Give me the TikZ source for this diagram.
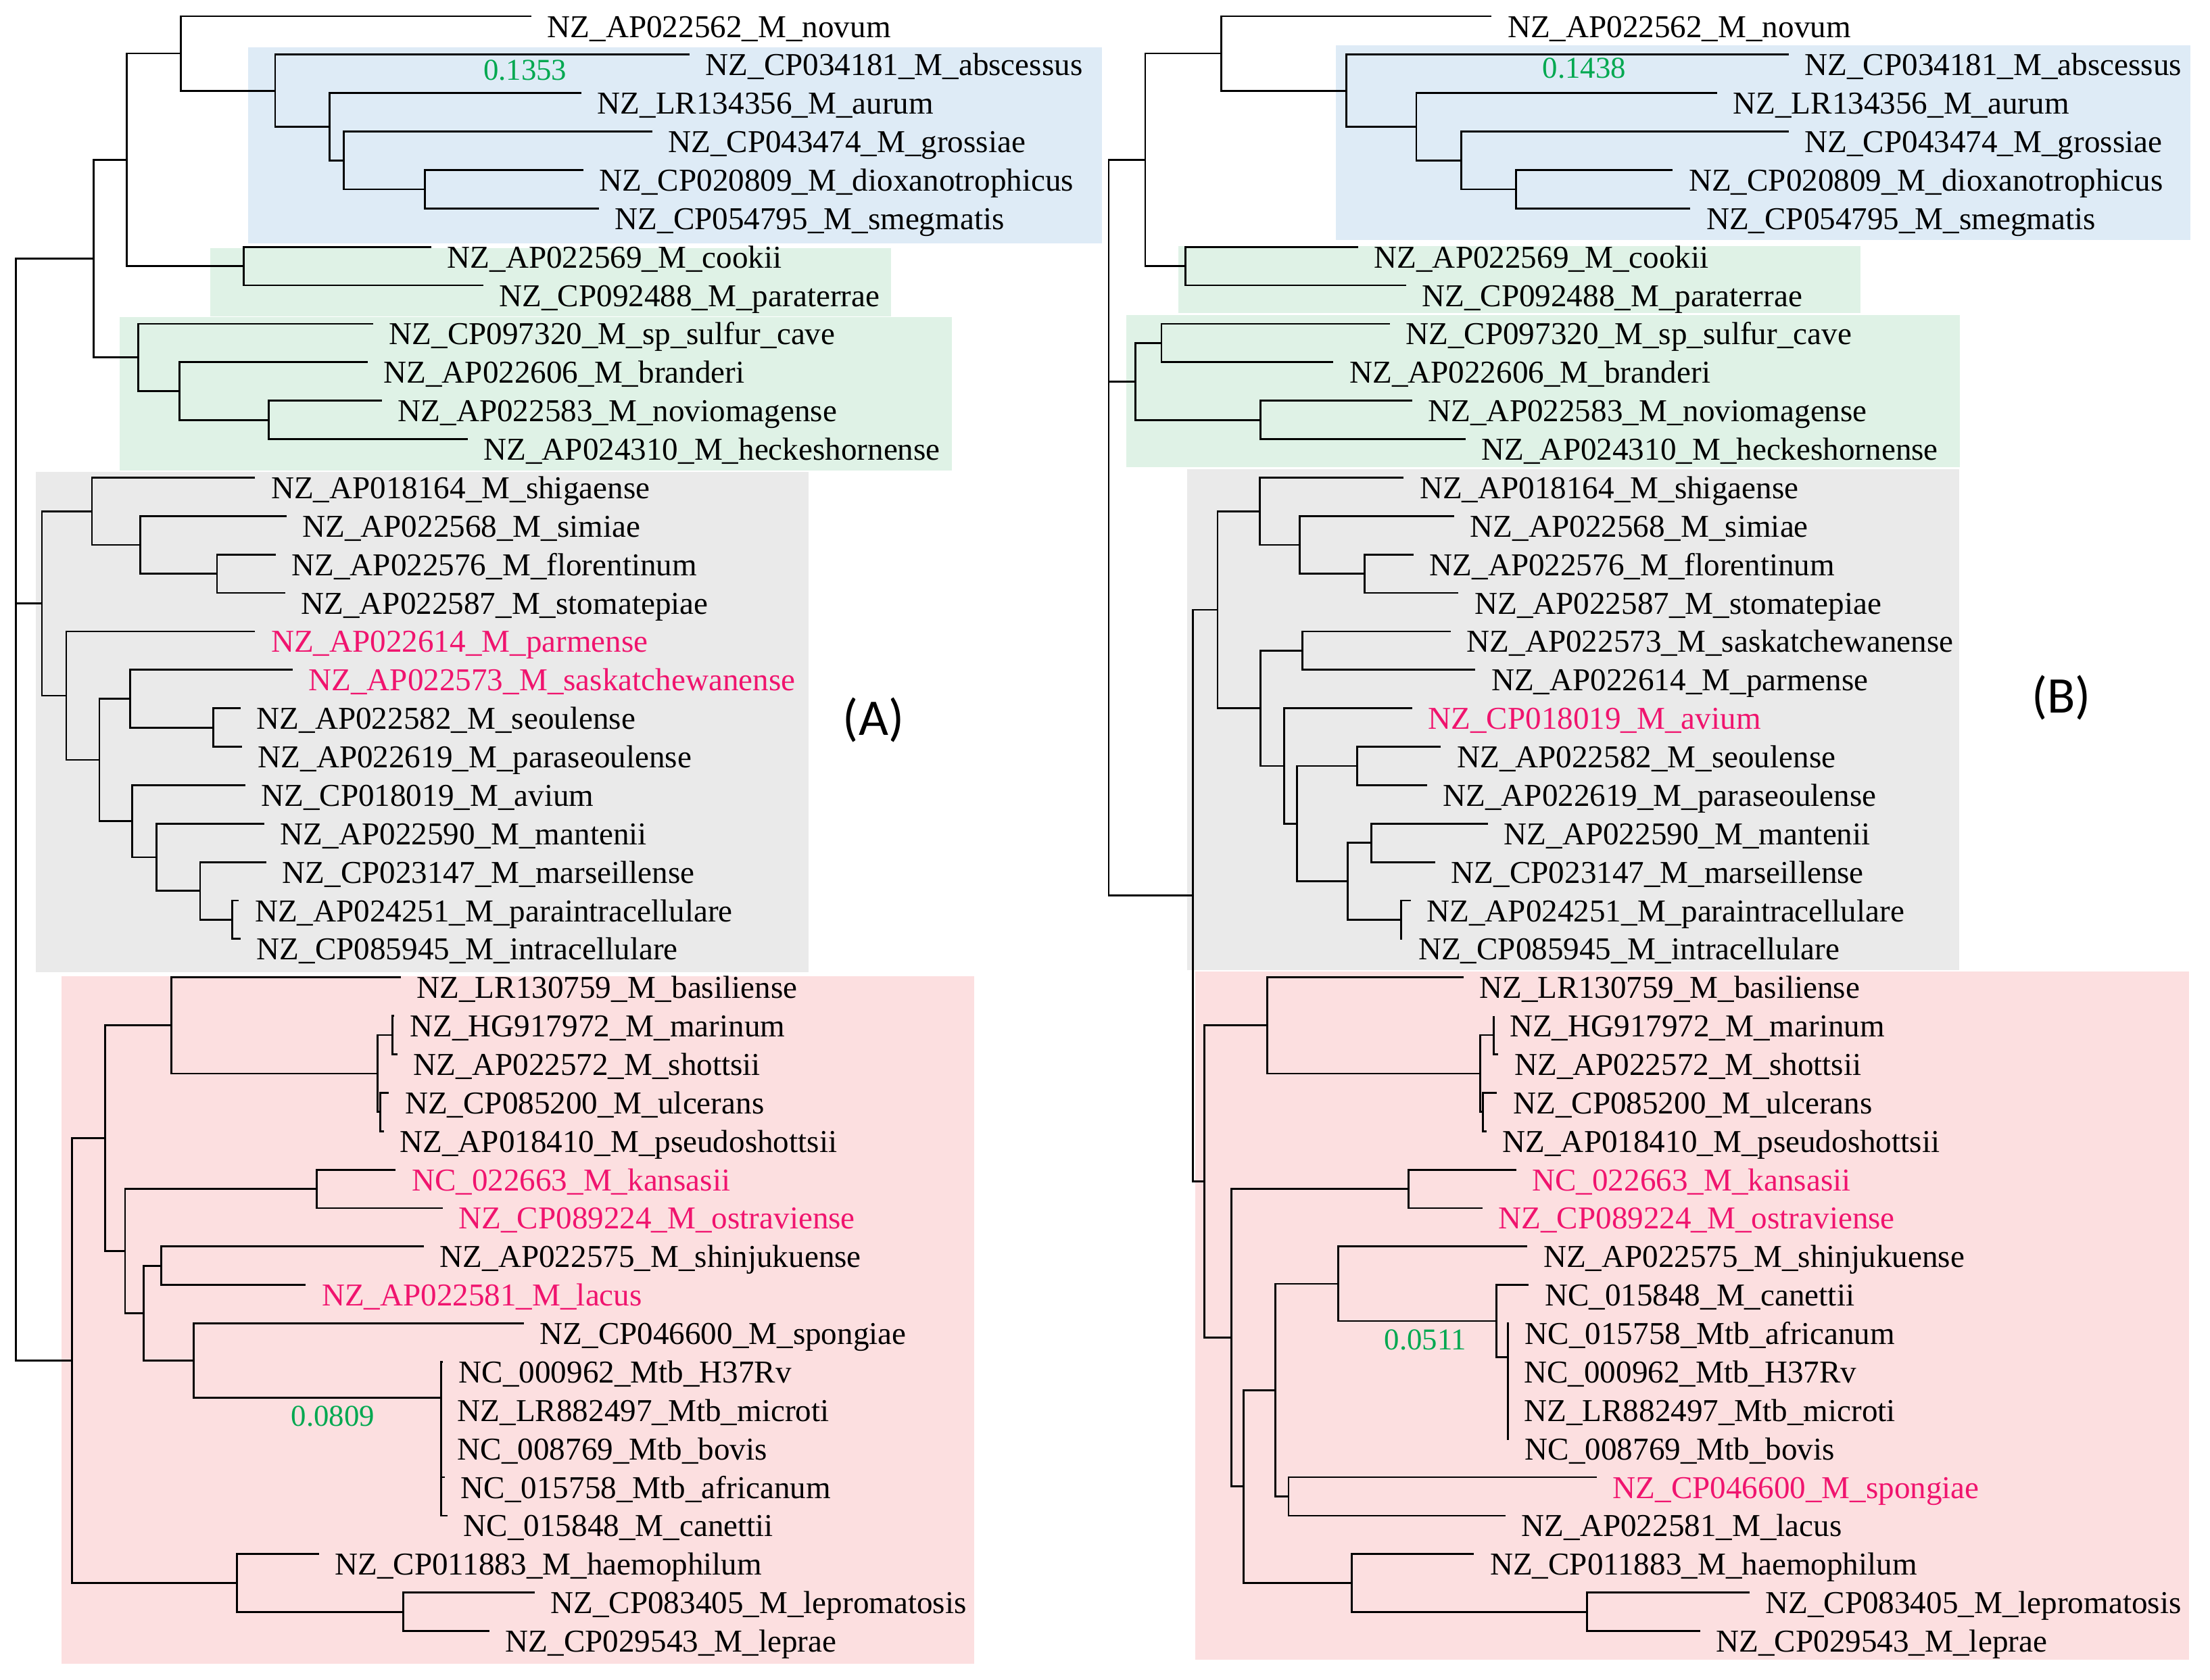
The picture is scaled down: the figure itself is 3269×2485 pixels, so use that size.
\documentclass[tikz,border=0pt]{standalone}
\usepackage{fontspec}
\setmainfont{Liberation Serif}
\newfontfamily\panelfont{Carlito}
\usetikzlibrary{calc}
\definecolor{bluebg}{RGB}{222,235,246}
\definecolor{greenbg}{RGB}{223,242,230}
\definecolor{graybg}{RGB}{234,234,234}
\definecolor{pinkbg}{RGB}{252,223,224}
\definecolor{hlpink}{RGB}{240,20,110}
\definecolor{numgreen}{RGB}{0,168,80}
\newcommand\LF[5]{%
  \coordinate (#1) at (#3,{24+56.87*#2});
  \node[lab,text=#4] (#1t) at ([shift={(23,31)}]#1) {#5};
}
\newcommand\IN[4]{%
  \path (#2,0) coordinate (#1@x) ($(#3)!0.5!(#4)$) coordinate (#1@m);
  \coordinate (#1) at (#1@m -| #1@x);
  \draw[br] (#3) -| (#1) |- (#4);
}
\begin{document}
\begin{tikzpicture}[x=0.25pt,y=-0.25pt,
  br/.style={line width=0.7pt,line join=miter},
  lab/.style={anchor=base west,inner sep=0pt,font=\fontsize{11.78pt}{12pt}\selectfont},
  num/.style={anchor=base,inner sep=0pt,text=numgreen,font=\fontsize{11.2pt}{12pt}\selectfont},
  panel/.style={anchor=center,inner sep=0pt,font=\panelfont\fontsize{19pt}{20pt}\selectfont}]
\useasboundingbox (0,0) rectangle (3269,2485);
% ---------- backgrounds ----------
\fill[bluebg]  (367,70) rectangle (1630,359.5);
\fill[greenbg] (311,366.5) rectangle (1318,467.5);
\fill[greenbg] (176.6,469.3) rectangle (1408,695.7);
\fill[graybg]  (52.7,697.9) rectangle (1195.6,1438);
\fill[pinkbg]  (90.6,1443.5) rectangle (1440.7,2460.5);
\fill[bluebg]  (1975.6,66.6) rectangle (3240,355);
\fill[greenbg] (1743,363.7) rectangle (2751.6,463.3);
\fill[greenbg] (1666,465.6) rectangle (2899,691);
\fill[graybg]  (1756.4,694.4) rectangle (2898,1434.6);
\fill[pinkbg]  (1767.8,1436.7) rectangle (3237.8,2455.3);
% ================= (A) =================
\LF{a0}{0}{786}{black}{NZ\_AP022562\_M\_novum}
\LF{a1}{1}{1020}{black}{NZ\_CP034181\_M\_abscessus}
\LF{a2}{2}{860}{black}{NZ\_LR134356\_M\_aurum}
\LF{a3}{3}{964.5}{black}{NZ\_CP043474\_M\_grossiae}
\LF{a4}{4}{862.7}{black}{NZ\_CP020809\_M\_dioxanotrophicus}
\LF{a5}{5}{885.9}{black}{NZ\_CP054795\_M\_smegmatis}
\LF{a6}{6}{638}{black}{NZ\_AP022569\_M\_cookii}
\LF{a7}{7}{714.8}{black}{NZ\_CP092488\_M\_paraterrae}
\LF{a8}{8}{552}{black}{NZ\_CP097320\_M\_sp\_sulfur\_cave}
\LF{a9}{9}{543.7}{black}{NZ\_AP022606\_M\_branderi}
\LF{a10}{10}{565}{black}{NZ\_AP022583\_M\_noviomagense}
\LF{a11}{11}{691.7}{black}{NZ\_AP024310\_M\_heckeshornense}
\LF{a12}{12}{377.3}{black}{NZ\_AP018164\_M\_shigaense}
\LF{a13}{13}{423.5}{black}{NZ\_AP022568\_M\_simiae}
\LF{a14}{14}{407.8}{black}{NZ\_AP022576\_M\_florentinum}
\LF{a15}{15}{421.7}{black}{NZ\_AP022587\_M\_stomatepiae}
\LF{a16}{16}{377.3}{hlpink}{NZ\_AP022614\_M\_parmense}
\LF{a17}{17}{432.8}{hlpink}{NZ\_AP022573\_M\_saskatchewanense}
\LF{a18}{18}{356}{black}{NZ\_AP022582\_M\_seoulense}
\LF{a19}{19}{357.9}{black}{NZ\_AP022619\_M\_paraseoulense}
\LF{a20}{20}{362.5}{black}{NZ\_CP018019\_M\_avium}
\LF{a21}{21}{391.1}{black}{NZ\_AP022590\_M\_mantenii}
\LF{a22}{22}{393.9}{black}{NZ\_CP023147\_M\_marseillense}
\LF{a23}{23}{353.2}{black}{NZ\_AP024251\_M\_paraintracellulare}
\LF{a24}{24}{356}{black}{NZ\_CP085945\_M\_intracellulare}
\LF{a25}{25}{592.7}{black}{NZ\_LR130759\_M\_basiliense}
\LF{a26}{26}{582.6}{black}{NZ\_HG917972\_M\_marinum}
\LF{a27}{27}{588.1}{black}{NZ\_AP022572\_M\_shottsii}
\LF{a28}{28}{575.2}{black}{NZ\_CP085200\_M\_ulcerans}
\LF{a29}{29}{567.8}{black}{NZ\_AP018410\_M\_pseudoshottsii}
\LF{a30}{30}{585.3}{hlpink}{NC\_022663\_M\_kansasii}
\LF{a31}{31}{654.7}{hlpink}{NZ\_CP089224\_M\_ostraviense}
\LF{a32}{32}{627}{black}{NZ\_AP022575\_M\_shinjukuense}
\LF{a33}{33}{452.2}{hlpink}{NZ\_AP022581\_M\_lacus}
\LF{a34}{34}{774.9}{black}{NZ\_CP046600\_M\_spongiae}
\LF{a35}{35}{655}{black}{NC\_000962\_Mtb\_H37Rv}
\LF{a36}{36}{653}{black}{NZ\_LR882497\_Mtb\_microti}
\LF{a37}{37}{653}{black}{NC\_008769\_Mtb\_bovis}
\LF{a38}{38}{658}{black}{NC\_015758\_Mtb\_africanum}
\LF{a39}{39}{662}{black}{NC\_015848\_M\_canettii}
\LF{a40}{40}{471.6}{black}{NZ\_CP011883\_M\_haemophilum}
\LF{a41}{41}{790.6}{black}{NZ\_CP083405\_M\_lepromatosis}
\LF{a42}{42}{724}{black}{NZ\_CP029543\_M\_leprae}
% top clade
\IN{nAfive}{628.8}{a4}{a5}
\IN{nAfour}{508.6}{a3}{nAfive}
\IN{nAthree}{487.3}{a2}{nAfour}
\IN{nAtwo}{406.9}{a1}{nAthree}
\IN{nAone}{267.2}{a0}{nAtwo}
\IN{nAck}{360.6}{a6}{a7}
\IN{nAtt}{187.7}{nAone}{nAck}
\IN{nAgc}{397.6}{a10}{a11}
\IN{nAgb}{265.4}{a9}{nAgc}
\IN{nAga}{204.4}{a8}{nAgb}
\IN{nAtop}{138.7}{nAtt}{nAga}
% gray clade
\IN{nAsc}{320.9}{a14}{a15}
\IN{nAsb}{207.1}{a13}{nAsc}
\IN{nAsa}{135.9}{a12}{nAsb}
\IN{nAse}{315.3}{a18}{a19}
\IN{nAsk}{192.3}{a17}{nAse}
\IN{nApi}{343.1}{a23}{a24}
\IN{nAma}{295.9}{a22}{nApi}
\IN{nAmn}{231.2}{a21}{nAma}
\IN{nAav}{195.1}{a20}{nAmn}
\IN{nAcc}{147}{nAsk}{nAav}
\IN{nApa}{98}{a16}{nAcc}
\IN{nAgray}{62}{nAsa}{nApa}
% pink clade
\IN{nAmarA}{580.7}{a26}{a27}
\IN{nAmarB}{562.2}{a28}{a29}
\IN{nAmar}{558.5}{nAmarA}{nAmarB}
\IN{nAba}{253.4}{a25}{nAmar}
\IN{nAka}{468.8}{a30}{a31}
\IN{nAsh}{238.6}{a32}{a33}
\coordinate (mA) at (652.8,2067.8);
\draw[br] (a35) -- (a35 -| mA) -- (a39 -| mA) -- (a39);
\foreach \k in {36,37,38} {\draw[br] (a\k -| mA) -- (a\k);}
\IN{nAsp}{286.7}{a34}{mA}
\IN{nAlb}{212.7}{nAsh}{nAsp}
\IN{nAla}{184.9}{nAka}{nAlb}
\IN{nApa1}{155.3}{nAba}{nAla}
\IN{nAle}{596.4}{a41}{a42}
\IN{nAha}{350.5}{a40}{nAle}
\IN{nApink}{106.3}{nApa1}{nAha}
\coordinate (rA) at (23.1,0);
\draw[br] (nAtop) -- (nAtop -| rA) -- (nApink -| rA) -- (nApink);
\draw[br] (nAgray) -- (nAgray -| rA);
\node[num] (vA1) at (776.7,118.5) {0.1353};
\node[num] (vA2) at (492.5,2109.3) {0.0809};
\node[panel] (pA) at (1292,1065) {(A)};
% ================= (B) =================
\LF{b0}{0}{2206.2}{black}{NZ\_AP022562\_M\_novum}
\LF{b1}{1}{2645.7}{black}{NZ\_CP034181\_M\_abscessus}
\LF{b2}{2}{2539.7}{black}{NZ\_LR134356\_M\_aurum}
\LF{b3}{3}{2645.7}{black}{NZ\_CP043474\_M\_grossiae}
\LF{b4}{4}{2474.2}{black}{NZ\_CP020809\_M\_dioxanotrophicus}
\LF{b5}{5}{2500.2}{black}{NZ\_CP054795\_M\_smegmatis}
\LF{b6}{6}{2008.8}{black}{NZ\_AP022569\_M\_cookii}
\LF{b7}{7}{2079.5}{black}{NZ\_CP092488\_M\_paraterrae}
\LF{b8}{8}{2055.6}{black}{NZ\_CP097320\_M\_sp\_sulfur\_cave}
\LF{b9}{9}{1972.4}{black}{NZ\_AP022606\_M\_branderi}
\LF{b10}{10}{2088.8}{black}{NZ\_AP022583\_M\_noviomagense}
\LF{b11}{11}{2167.8}{black}{NZ\_AP024310\_M\_heckeshornense}
\LF{b12}{12}{2076.3}{black}{NZ\_AP018164\_M\_shigaense}
\LF{b13}{13}{2151.1}{black}{NZ\_AP022568\_M\_simiae}
\LF{b14}{14}{2090.9}{black}{NZ\_AP022576\_M\_florentinum}
\LF{b15}{15}{2157.4}{black}{NZ\_AP022587\_M\_stomatepiae}
\LF{b16}{16}{2146}{black}{NZ\_AP022573\_M\_saskatchewanense}
\LF{b17}{17}{2182.3}{black}{NZ\_AP022614\_M\_parmense}
\LF{b18}{18}{2088.8}{hlpink}{NZ\_CP018019\_M\_avium}
\LF{b19}{19}{2131.4}{black}{NZ\_AP022582\_M\_seoulense}
\LF{b20}{20}{2110.6}{black}{NZ\_AP022619\_M\_paraseoulense}
\LF{b21}{21}{2201}{black}{NZ\_AP022590\_M\_mantenii}
\LF{b22}{22}{2123.1}{black}{NZ\_CP023147\_M\_marseillense}
\LF{b23}{23}{2086.7}{black}{NZ\_AP024251\_M\_paraintracellulare}
\LF{b24}{24}{2074.3}{black}{NZ\_CP085945\_M\_intracellulare}
\LF{b25}{25}{2164.6}{black}{NZ\_LR130759\_M\_basiliense}
\LF{b26}{26}{2209.3}{black}{NZ\_HG917972\_M\_marinum}
\LF{b27}{27}{2216.4}{black}{NZ\_AP022572\_M\_shottsii}
\LF{b28}{28}{2214.4}{black}{NZ\_CP085200\_M\_ulcerans}
\LF{b29}{29}{2198.8}{black}{NZ\_AP018410\_M\_pseudoshottsii}
\LF{b30}{30}{2242.6}{hlpink}{NC\_022663\_M\_kansasii}
\LF{b31}{31}{2192.7}{hlpink}{NZ\_CP089224\_M\_ostraviense}
\LF{b32}{32}{2259.2}{black}{NZ\_AP022575\_M\_shinjukuense}
\LF{b33}{33}{2261.3}{black}{NC\_015848\_M\_canettii}
\LF{b34}{34}{2232}{black}{NC\_015758\_Mtb\_africanum}
\LF{b35}{35}{2230.5}{black}{NC\_000962\_Mtb\_H37Rv}
\LF{b36}{36}{2230.5}{black}{NZ\_LR882497\_Mtb\_microti}
\LF{b37}{37}{2232}{black}{NC\_008769\_Mtb\_bovis}
\LF{b38}{38}{2362}{hlpink}{NZ\_CP046600\_M\_spongiae}
\LF{b39}{39}{2227}{black}{NZ\_AP022581\_M\_lacus}
\LF{b40}{40}{2180.2}{black}{NZ\_CP011883\_M\_haemophilum}
\LF{b41}{41}{2587.5}{black}{NZ\_CP083405\_M\_lepromatosis}
\LF{b42}{42}{2514.8}{black}{NZ\_CP029543\_M\_leprae}
% top clade
\IN{nBfive}{2242.6}{b4}{b5}
\IN{nBfour}{2161.5}{b3}{nBfive}
\IN{nBthree}{2095}{b2}{nBfour}
\IN{nBtwo}{1991.1}{b1}{nBthree}
\IN{nBone}{1806.2}{b0}{nBtwo}
\IN{nBck}{1753.2}{b6}{b7}
\IN{nBtop}{1694}{nBone}{nBck}
\IN{nBga}{1717.9}{b8}{b9}
\IN{nBgb}{1864.4}{b10}{b11}
\IN{nBgreen}{1679.5}{nBga}{nBgb}
% gray clade
\IN{nBsc}{2018.2}{b14}{b15}
\IN{nBsb}{1922.6}{b13}{nBsc}
\IN{nBsa}{1863.4}{b12}{nBsb}
\IN{nBsk}{1926.7}{b16}{b17}
\IN{nBse}{2007.8}{b19}{b20}
\IN{nBma}{2028.5}{b21}{b22}
\IN{nBpi}{2072.2}{b23}{b24}
\IN{nBmp}{1993.2}{nBma}{nBpi}
\IN{nBsm}{1918.4}{nBse}{nBmp}
\IN{nBav}{1899.7}{b18}{nBsm}
\IN{nBcc}{1864.4}{nBsk}{nBav}
\IN{nBgray}{1801}{nBsa}{nBcc}
% pink clade
\IN{nBmarA}{2209.3}{b26}{b27}
\IN{nBmarB}{2193.7}{b28}{b29}
\IN{nBmar}{2189.6}{nBmarA}{nBmarB}
\IN{nBba}{1874.8}{b25}{nBmar}
\IN{nBka}{2083.6}{b30}{b31}
\coordinate (mB) at (2230.1,2007.34);
\draw[br] (b34) -- (b34 -| mB) -- (b37 -| mB) -- (b37);
\foreach \k in {35,36} {\draw[br] (b\k -| mB) -- (b\k);}
\IN{nBcm}{2213.5}{b33}{mB}
\IN{nBsh}{1979.7}{b32}{nBcm}
\IN{nBsl}{1906}{b38}{b39}
\IN{nBlb}{1886.2}{nBsh}{nBsl}
\IN{nBle}{2347.5}{b41}{b42}
\IN{nBha}{1999.5}{b40}{nBle}
\IN{nBla}{1839.5}{nBlb}{nBha}
\IN{nBl0}{1821.8}{nBka}{nBla}
\IN{nBpa1}{1781.3}{nBba}{nBl0}
\IN{nBlow}{1764.7}{nBgray}{nBpa1}
\coordinate (rB) at (1640,0);
\draw[br] (nBtop) -- (nBtop -| rB) -- (nBlow -| rB) -- (nBlow);
\draw[br] (nBgreen) -- (nBgreen -| rB);
\node[num] (vB1) at (2343.5,115.7) {0.1438};
\node[num] (vB2) at (2108.6,1996.5) {0.0511};
\node[panel] (pB) at (3049,1032) {(B)};
\end{tikzpicture}
\end{document}
